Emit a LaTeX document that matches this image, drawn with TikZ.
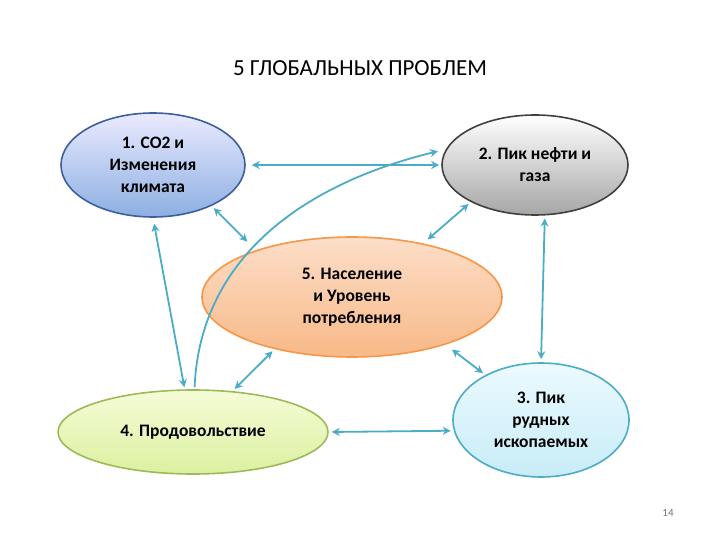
\documentclass[tikz,border=0pt]{standalone}
\usepackage{fontspec}
\setmainfont{Carlito}
\usetikzlibrary{shapes.geometric,arrows.meta}
\definecolor{arr}{HTML}{4BACC6}
\begin{document}
\begin{tikzpicture}[x=1pt,y=-1pt,
  ell/.style={ellipse,line width=1.6pt,font=\bfseries\fontsize{17.5}{22}\selectfont,align=center,inner sep=0pt},
  con/.style={draw=arr,line width=1.8pt,{Stealth[length=8pt,width=8pt]}-{Stealth[length=8pt,width=8pt]},shorten <=3pt,shorten >=3pt}]
\useasboundingbox (0,0) rectangle (720,540);
\node (title) at (360,68) {\fontsize{23}{27}\selectfont 5 ГЛОБАЛЬНЫХ ПРОБЛЕМ};
\node[ell,draw={rgb,255:red,60;green,95;blue,160},top color=blue!8,bottom color={rgb,255:red,140;green,175;blue,225},minimum width=184pt,minimum height=104pt] (e1) at (153,165) {1. CO2 и\\Изменения\\климата};
\node[ell,draw=black!75,top color=white,bottom color=black!35,minimum width=186pt,minimum height=100pt] (e2) at (535,165) {2. Пик нефти и\\газа};
\node[ell,draw={rgb,255:red,247;green,150;blue,70},top color={rgb,255:red,252;green,222;blue,200},bottom color={rgb,255:red,248;green,185;blue,135},minimum width=300pt,minimum height=120pt] (e5) at (352,297) {5. Население\\и Уровень\\потребления};
\node[ell,draw={rgb,255:red,155;green,187;blue,89},top color={rgb,255:red,245;green,252;blue,215},bottom color={rgb,255:red,220;green,240;blue,160},minimum width=270pt,minimum height=84pt] (e4) at (193,432) {4. Продовольствие};
\node[ell,draw=arr,top color={rgb,255:red,235;green,250;blue,254},bottom color={rgb,255:red,200;green,236;blue,248},minimum width=176pt,minimum height=114pt] (e3) at (541,420) {3. Пик\\рудных\\ископаемых};
\node[text=black!55,font=\fontsize{11}{13}\selectfont] (pg) at (668,513) {14};
\draw[con,shorten <=6pt,shorten >=2pt] (e1.east) -- (e2.west);
\draw[con,shorten >=12pt] (e1.-35) -- (e5.154);
\draw[con,shorten >=6pt] (e2.-150) -- (e5.37);
\draw[con,shorten <=6pt,shorten >=2pt] (e1.-90) -- (e4.101);
\draw[con] (e5.-146) -- (e4.46);
\draw[con,shorten <=8pt] (e5.-27) -- (e3.141);
\draw[con] (e2.-79) -- (e3.90);
\draw[con] (e4.east) -- (e3.-173);
\draw[draw=arr,line width=1.8pt,-{Stealth[length=8pt,width=8pt]},shorten <=2pt,shorten >=8pt] (e4.88) .. controls (200,260) and (300,185) .. (e2.170);
\end{tikzpicture}
\end{document}
